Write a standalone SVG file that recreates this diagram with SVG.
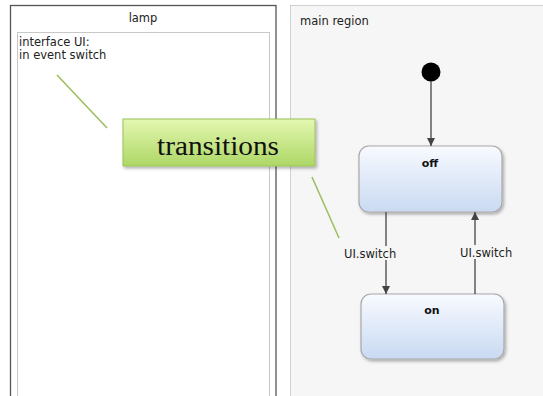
<svg xmlns="http://www.w3.org/2000/svg" width="543" height="396" viewBox="0 0 543 396">
<style>
.small{font-family:"DejaVu Sans",Verdana,sans-serif;font-size:11.5px;fill:#222}
.state{fill:url(#sg);stroke:#a8a8a8;stroke-width:1.2}
.bold{font-family:"DejaVu Sans",Verdana,sans-serif;font-size:11px;font-weight:bold;fill:#111}
.edge{stroke:#444;stroke-width:1.3;fill:none}
.callout{stroke:#9bbd5a;stroke-width:1.5}
.lblbg{fill:#f6f6f6}
</style>
<defs>
<linearGradient id="sg" x1="0" y1="0" x2="0" y2="1">
<stop offset="0" stop-color="#f8faff"/>
<stop offset="1" stop-color="#c9daf2"/>
</linearGradient>
<linearGradient id="gg" x1="0" y1="0" x2="0" y2="1">
<stop offset="0" stop-color="#e4f7b0"/>
<stop offset="1" stop-color="#add766"/>
</linearGradient>
<filter id="sh" x="-10%" y="-10%" width="130%" height="140%">
<feDropShadow dx="1.5" dy="2" stdDeviation="1.5" flood-color="#000" flood-opacity="0.3"/>
</filter>
<marker id="ah" viewBox="0 0 10 10" refX="10" refY="5" markerWidth="8" markerHeight="8" markerUnits="userSpaceOnUse" orient="auto">
<path d="M0,0 L10,5 L0,10 z" fill="#444"/>
</marker>
</defs>
<rect width="543" height="396" fill="#fff"/>
<g id="lamp">
<rect x="10.5" y="5.5" width="265.5" height="400" fill="#fff" stroke="#555" stroke-width="1.3"/>
<text x="143" y="22" class="small" text-anchor="middle">lamp</text>
<rect x="17.5" y="32.5" width="252" height="380" fill="#fff" stroke="#c8c8c8" stroke-width="1"/>
<text x="19" y="46" class="small">interface UI:</text>
<text x="19" y="59" class="small">in event switch</text>
</g>
<g id="main_region">
<rect x="290.5" y="5.5" width="260" height="400" fill="#f6f6f6" stroke="#d0d0d0" stroke-width="1"/>
<text x="300" y="25" class="small">main region</text>
</g>
<g id="initial">
<circle cx="431" cy="72" r="9.5" fill="#000"/>
</g>
<g id="off">
<rect x="359" y="146" width="143" height="66" rx="10" class="state" filter="url(#sh)"/>
<text x="430" y="167" class="bold" text-anchor="middle">off</text>
</g>
<g id="on">
<rect x="361" y="294" width="143" height="65" rx="10" class="state" filter="url(#sh)"/>
<text x="432" y="314" class="bold" text-anchor="middle">on</text>
</g>
<g id="connectors">
<line x1="431" y1="81" x2="431" y2="146" class="edge" marker-end="url(#ah)"/>
<line x1="386" y1="212" x2="386" y2="294" class="edge" marker-end="url(#ah)"/>
<line x1="475" y1="294" x2="475" y2="212" class="edge" marker-end="url(#ah)"/>
<rect x="343" y="246" width="59" height="14" class="lblbg"/>
<text x="344" y="258" class="small">UI.switch</text>
<rect x="459" y="245" width="59" height="14" class="lblbg"/>
<text x="460" y="257" class="small">UI.switch</text>
</g>
<g id="transitions_note">
<line x1="57" y1="75" x2="107" y2="128" class="callout"/>
<line x1="312" y1="177" x2="339" y2="238" class="callout"/>
<rect x="123" y="119" width="192" height="47" fill="url(#gg)" stroke="#9cc25a" stroke-width="1" filter="url(#sh)"/>
<text x="218" y="155" font-family="'Liberation Serif','DejaVu Serif',serif" font-size="28" fill="#111" text-anchor="middle" textLength="122" lengthAdjust="spacingAndGlyphs">transitions</text>
</g>
</svg>
